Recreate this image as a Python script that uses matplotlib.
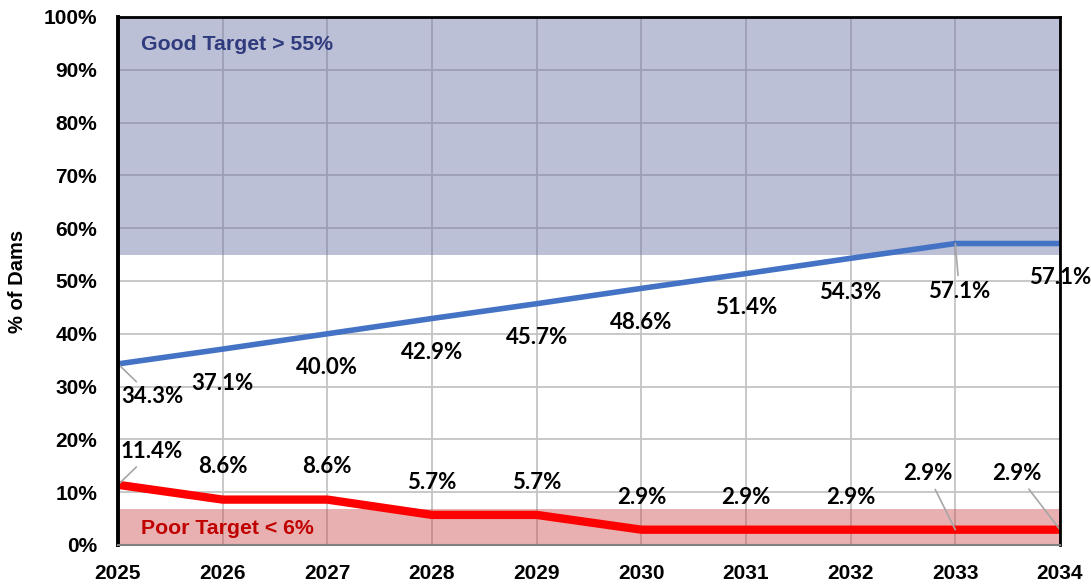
import matplotlib
matplotlib.use("Agg")
import matplotlib.pyplot as plt

years = [2025, 2026, 2027, 2028, 2029, 2030, 2031, 2032, 2033, 2034]
good = [34.3, 37.1, 40.0, 42.9, 45.7, 48.6, 51.4, 54.3, 57.1, 57.1]
poor = [11.4, 8.6, 8.6, 5.7, 5.7, 2.9, 2.9, 2.9, 2.9, 2.9]
good_target = 55
poor_band_top = 6.8
y_ticks = list(range(0, 101, 10))

# label offsets in pixels (dx, dy) and whether to draw a leader line
good_off = [(34, -33, True), (0, -34, False), (0, -34, False), (0, -34, False), (0, -34, False),
            (0, -34, False), (0, -34, False), (0, -34, False), (4, -48, True), (0, -34, False)]
poor_off = [(34, 33, True), (0, 33, False), (0, 33, False), (0, 32, False), (0, 32, False),
            (0, 32, False), (0, 32, False), (0, 32, False), (-28, 56, True), (-43, 56, True)]

fig = plt.figure(figsize=(10.91, 5.88), dpi=100)
ax = fig.add_axes([118/1091, 43/588, 942/1091, 528/588])

ax.set_xlim(years[0], years[-1])
ax.set_ylim(0, 100)

ax.grid(True, color="#c4c4c4", lw=1.3, zorder=0.5)
ax.set_axisbelow(True)
ax.axhspan(good_target, 100, color="#6770a2", alpha=0.44, lw=0, zorder=1)
ax.axhspan(0, poor_band_top, color="#cb4b4b", alpha=0.44, lw=0, zorder=1)

ax.plot(years, good, color="#4472c4", lw=4, zorder=3, solid_capstyle="butt")
ax.plot(years, poor, color="#ff0000", lw=6, zorder=3, solid_capstyle="butt")

lab_font = dict(family=["Lato", "DejaVu Sans"], fontsize=16, fontweight="bold", color="black")
for series, offs in ((good, good_off), (poor, poor_off)):
    for x, v, (dx, dy, lead) in zip(years, series, offs):
        kw = {}
        if lead:
            kw["arrowprops"] = dict(arrowstyle="-", color="#a6a6a6", lw=1.2, shrinkA=2, shrinkB=0)
        ax.annotate(f"{v:.1f}%", xy=(x, v), xytext=(dx, dy), textcoords="offset pixels",
                    ha="center", va="center", zorder=5, annotation_clip=False, **lab_font, **kw)

ax.text(0.024, 0.947, "Good Target > 55%", transform=ax.transAxes, fontsize=15.3,
        fontweight="bold", color="#2f3b7d", family="Liberation Sans", va="center", ha="left", zorder=4)
ax.text(0.024, 0.032, "Poor Target < 6%", transform=ax.transAxes, fontsize=15.3,
        fontweight="bold", color="#c00000", family="Liberation Sans", va="center", ha="left", zorder=4)

ax.set_xticks(years)
ax.set_xticklabels([str(y) for y in years], fontsize=15, fontweight="bold", family="Liberation Sans")
ax.set_yticks(y_ticks)
ax.set_yticklabels([f"{t}%" for t in y_ticks], fontsize=15, fontweight="bold", family="Liberation Sans")
ax.tick_params(axis="x", length=0, pad=14)
ax.tick_params(axis="y", length=0, pad=15)

ax.set_ylabel("% of Dams", fontsize=14.5, fontweight="bold", family="Liberation Sans", labelpad=12)

for s in ("left", "top", "right"):
    ax.spines[s].set_color("black")
ax.spines["left"].set_linewidth(2.8)
ax.spines["top"].set_linewidth(2)
ax.spines["right"].set_linewidth(2)
ax.spines["bottom"].set_color("#808080")
ax.spines["bottom"].set_linewidth(1.5)
for s in ax.spines.values():
    s.set_zorder(6)

fig.savefig("out.png", dpi=100)
